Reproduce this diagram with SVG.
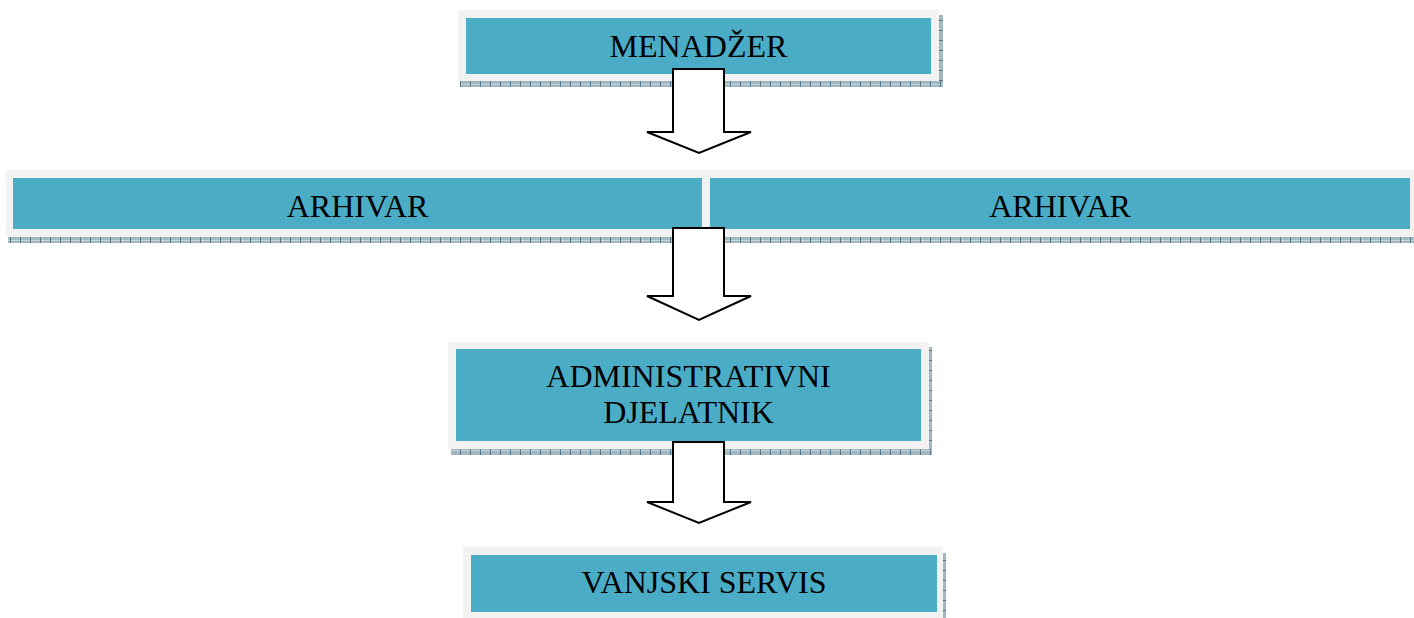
<svg xmlns="http://www.w3.org/2000/svg" width="1414" height="618" viewBox="0 0 1414 618">
<defs>
<pattern id="tex" patternUnits="userSpaceOnUse" width="10" height="6">
<rect width="10" height="6" fill="#a3b7c0"/>
<rect x="0" y="0" width="10" height="1" fill="#c4d2d8"/>
<rect x="0" y="0" width="1" height="6" fill="#56778a"/>
<rect x="5" y="3" width="1" height="1" fill="#8ea5af"/>
</pattern>
<pattern id="texv" patternUnits="userSpaceOnUse" width="4" height="10">
<rect width="4" height="10" fill="#a3b7c0"/>
<rect x="0" y="0" width="4" height="1" fill="#56778a"/>
</pattern>
</defs>
<style>
.outer{fill:#f2f2f2}
.inner{fill:#4bacc6}
.sh{fill:url(#tex)}
.shv{fill:url(#texv)}
.lbl{font-family:"Liberation Serif","Times New Roman",serif;font-size:32px;fill:#000;text-anchor:middle}
.arr{fill:#fff;stroke:#000;stroke-width:2;stroke-linejoin:miter}
</style>
<rect width="1414" height="618" fill="#fff"/>

<g id="menadzer">
<rect class="shv" x="939" y="15" width="4" height="72"/>
<rect class="sh" x="460" y="81" width="483" height="6"/>
<rect class="outer" x="458" y="10" width="481" height="71"/>
<rect class="inner" x="466" y="18" width="465" height="56"/>
<text class="lbl" x="698.5" y="57">MENADŽER</text>
</g>

<g id="arhivar1">
<rect class="sh" x="8" y="237" width="700" height="6"/>
<rect class="outer" x="6" y="170" width="704" height="67"/>
<rect class="inner" x="13" y="178" width="689" height="51"/>
<text class="lbl" x="357.5" y="217">ARHIVAR</text>
</g>

<g id="arhivar2">
<rect class="sh" x="708" y="237" width="706" height="6"/>
<rect class="outer" x="702" y="170" width="712" height="67"/>
<rect class="inner" x="710" y="178" width="700" height="51"/>
<text class="lbl" x="1060" y="217">ARHIVAR</text>
</g>

<g id="administrativni">
<rect class="shv" x="929" y="347" width="3" height="108"/>
<rect class="sh" x="451" y="449" width="481" height="6"/>
<rect class="outer" x="448" y="342" width="481" height="107"/>
<rect class="inner" x="456" y="349" width="465" height="92"/>
<text class="lbl" x="688.5" y="387">ADMINISTRATIVNI</text>
<text class="lbl" x="688.5" y="423">DJELATNIK</text>
</g>

<g id="vanjski">
<rect class="shv" x="943" y="553" width="3" height="65"/>
<rect class="outer" x="463" y="547" width="480" height="71"/>
<rect class="inner" x="471" y="555" width="466" height="57"/>
<text class="lbl" x="704" y="593">VANJSKI SERVIS</text>
</g>

<g id="connectors">
<path class="arr" d="M673,69 H724 V132 H751 L699,153 L647,132 H673 Z"/>
<path class="arr" d="M673,228 H724 V296 H751 L699,320 L647,296 H673 Z"/>
<path class="arr" d="M673,442 H724 V502 H751 L699,523 L647,502 H673 Z"/>
</g>
</svg>
